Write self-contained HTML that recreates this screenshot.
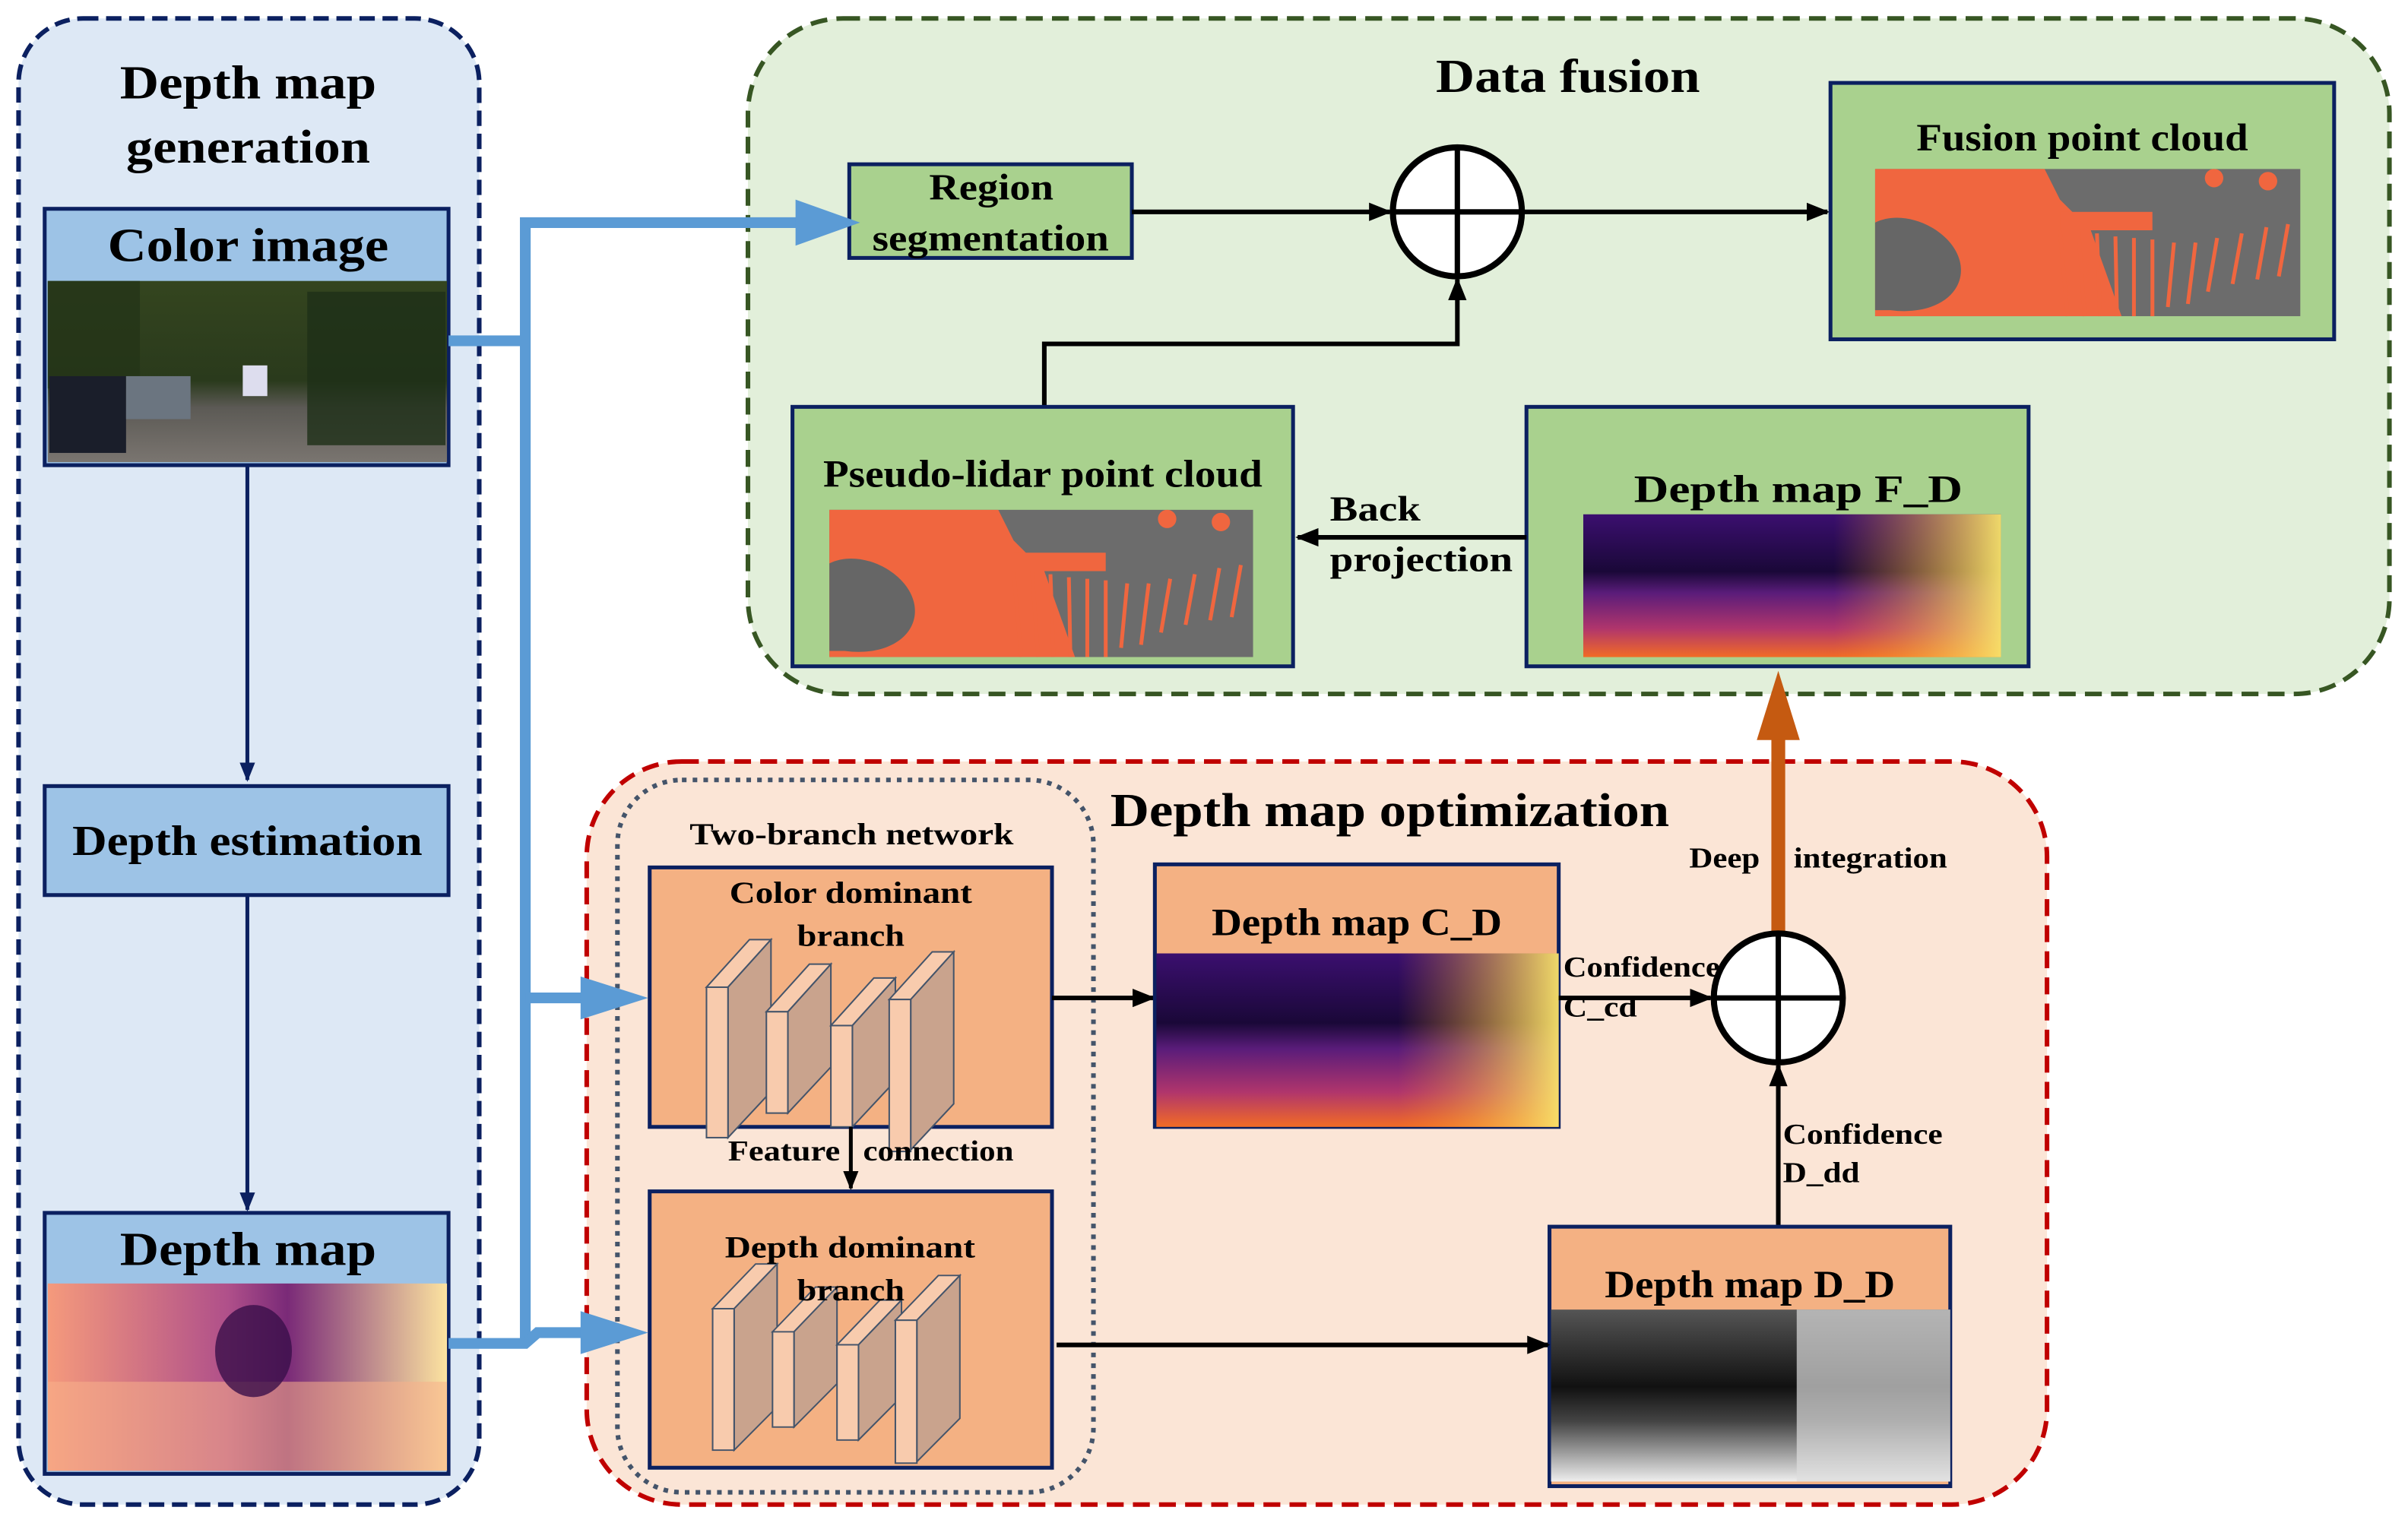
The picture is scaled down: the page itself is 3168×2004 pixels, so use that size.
<!DOCTYPE html>
<html><head><meta charset="utf-8"><style>html,body{margin:0;padding:0;background:#fff}svg{display:block}text{font-family:"Liberation Serif",serif;font-weight:bold;fill:#000}</style></head>
<body>
<svg width="3168" height="2004" viewBox="0 0 1568 992" xmlns="http://www.w3.org/2000/svg">
<defs>
<marker id="ah" viewBox="0 0 10 10" refX="9" refY="5" markerWidth="5" markerHeight="5" orient="auto-start-reverse"><path d="M0,1 L10,5 L0,9 z" fill="#000"/></marker>
<marker id="an" viewBox="0 0 10 10" refX="9" refY="5" markerWidth="5" markerHeight="5" orient="auto"><path d="M0,1 L10,5 L0,9 z" fill="#0b2060"/></marker>
<linearGradient id="inf" x1="0" y1="0" x2="0" y2="1"><stop offset="0" stop-color="#3b0f6f"/><stop offset="0.4" stop-color="#1a0838"/><stop offset="0.55" stop-color="#5a1c7a"/><stop offset="0.8" stop-color="#b0356c"/><stop offset="1" stop-color="#f26b25"/></linearGradient>
<linearGradient id="infR" x1="0" y1="0" x2="1" y2="0"><stop offset="0.6" stop-color="#f59020" stop-opacity="0"/><stop offset="1" stop-color="#f8e36a" stop-opacity="0.95"/></linearGradient>
<linearGradient id="pas" x1="0" y1="0" x2="1" y2="0"><stop offset="0" stop-color="#f59a7c"/><stop offset="0.45" stop-color="#b0508a"/><stop offset="0.6" stop-color="#7a2a78"/><stop offset="1" stop-color="#fce3a0"/></linearGradient>
<linearGradient id="gry" x1="0" y1="0" x2="0" y2="1"><stop offset="0" stop-color="#555"/><stop offset="0.45" stop-color="#111"/><stop offset="0.65" stop-color="#444"/><stop offset="1" stop-color="#eee"/></linearGradient>
<linearGradient id="photo" x1="0" y1="0" x2="0" y2="1"><stop offset="0" stop-color="#34451f"/><stop offset="0.55" stop-color="#2a3a1c"/><stop offset="0.7" stop-color="#5c5a55"/><stop offset="1" stop-color="#7a7570"/></linearGradient>
<symbol id="lidar" viewBox="0 0 276 96" preserveAspectRatio="none">
<rect width="276" height="96" fill="#6c6c6c"/>
<path d="M0,0 H110 L120,20 L140,40 L160,96 H0 z" fill="#f0663f"/>
<path d="M0,35 C20,25 50,40 55,60 C60,80 40,96 10,92 L0,92 z" fill="#666"/>
<g stroke="#f0663f" stroke-width="2.5">
<line x1="120" y1="40" x2="125" y2="96"/><line x1="132" y1="40" x2="136" y2="96"/><line x1="144" y1="42" x2="146" y2="96"/><line x1="156" y1="44" x2="157" y2="96"/><line x1="168" y1="45" x2="168" y2="96"/><line x1="180" y1="46" x2="180" y2="96"/><line x1="194" y1="48" x2="190" y2="90"/><line x1="208" y1="48" x2="203" y2="88"/><line x1="222" y1="45" x2="216" y2="80"/><line x1="238" y1="42" x2="232" y2="75"/><line x1="254" y1="38" x2="248" y2="72"/><line x1="268" y1="36" x2="262" y2="70"/>
</g>
<rect x="120" y="28" width="60" height="12" fill="#f0663f"/>
<circle cx="220" cy="6" r="6" fill="#f0663f"/><circle cx="255" cy="8" r="6" fill="#f0663f"/>
</symbol>
<g id="blocks" stroke="#44546a" stroke-width="1">
<path d="M460,643 l28,-31 h14 l-28,31 z" fill="#f8cbad"/><path d="M474,643 l28,-31 v99 l-28,30 z" fill="#c9a38d"/><rect x="460" y="643" width="14" height="98" fill="#f8cbad"/>
<path d="M499,659 l28,-31 h14 l-28,31 z" fill="#f8cbad"/><path d="M513,659 l28,-31 v67 l-28,30 z" fill="#c9a38d"/><rect x="499" y="659" width="14" height="66" fill="#f8cbad"/>
<path d="M541,668 l28,-31 h14 l-28,31 z" fill="#f8cbad"/><path d="M555,668 l28,-31 v67 l-28,30 z" fill="#c9a38d"/><rect x="541" y="668" width="14" height="66" fill="#f8cbad"/>
<path d="M579,651 l28,-31 h14 l-28,31 z" fill="#f8cbad"/><path d="M593,651 l28,-31 v99 l-28,30 z" fill="#c9a38d"/><rect x="579" y="651" width="14" height="99" fill="#f8cbad"/>
</g>
</defs>

<rect x="12" y="12" width="300" height="968" rx="42" fill="#dde8f5" stroke="#0b2060" stroke-width="3" stroke-dasharray="10,5"/>
<text x="78" y="64" font-size="31" textLength="167" lengthAdjust="spacingAndGlyphs">Depth map</text>
<text x="82" y="106" font-size="31" textLength="159" lengthAdjust="spacingAndGlyphs">generation</text>
<rect x="29" y="136" width="263" height="167" fill="#9dc3e6" stroke="#0b2060" stroke-width="2.5"/>
<text x="70" y="170" font-size="31" textLength="183" lengthAdjust="spacingAndGlyphs">Color image</text>
<rect x="31" y="183" width="260" height="118" fill="url(#photo)"/>
<rect x="31" y="183" width="60" height="70" fill="#243418" opacity="0.8"/>
<rect x="200" y="190" width="90" height="100" fill="#1e3018" opacity="0.8"/>
<rect x="32" y="245" width="50" height="50" fill="#1a1e2a"/><rect x="82" y="245" width="42" height="28" fill="#6b7580"/><rect x="158" y="238" width="16" height="20" fill="#dde"/>
<line x1="161" y1="303" x2="161" y2="508" stroke="#0b2060" stroke-width="2.5" marker-end="url(#an)"/>
<rect x="29" y="512" width="263" height="71" fill="#9dc3e6" stroke="#0b2060" stroke-width="2.5"/>
<text x="47" y="557" font-size="28" textLength="228" lengthAdjust="spacingAndGlyphs">Depth estimation</text>
<line x1="161" y1="583" x2="161" y2="788" stroke="#0b2060" stroke-width="2.5" marker-end="url(#an)"/>
<rect x="29" y="790" width="263" height="170" fill="#9dc3e6" stroke="#0b2060" stroke-width="2.5"/>
<text x="78" y="824" font-size="31" textLength="167" lengthAdjust="spacingAndGlyphs">Depth map</text>
<rect x="31" y="836" width="260" height="122" fill="url(#pas)"/>
<rect x="31" y="900" width="260" height="58" fill="#f7b08a" opacity="0.55"/>
<ellipse cx="165" cy="880" rx="25" ry="30" fill="#3a0f4a" opacity="0.8"/>

<rect x="487" y="12" width="1069" height="440" rx="62" fill="#e2efda" stroke="#375623" stroke-width="3" stroke-dasharray="11,6"/>
<text x="935" y="60" font-size="31" textLength="172" lengthAdjust="spacingAndGlyphs">Data fusion</text>
<rect x="553" y="107" width="184" height="61" fill="#a9d18e" stroke="#0b2060" stroke-width="2.5"/>
<text x="605" y="130" font-size="24" textLength="81" lengthAdjust="spacingAndGlyphs">Region</text>
<text x="568" y="163" font-size="24" textLength="154" lengthAdjust="spacingAndGlyphs">segmentation</text>
<line x1="737" y1="138" x2="905" y2="138" stroke="#000" stroke-width="3" marker-end="url(#ah)"/>
<circle cx="949" cy="138" r="42" fill="#fff" stroke="#000" stroke-width="4"/>
<line x1="907" y1="138" x2="991" y2="138" stroke="#000" stroke-width="3.5"/><line x1="949" y1="96" x2="949" y2="180" stroke="#000" stroke-width="3.5"/>
<line x1="991" y1="138" x2="1190" y2="138" stroke="#000" stroke-width="3" marker-end="url(#ah)"/>
<rect x="1192" y="54" width="328" height="167" fill="#a9d18e" stroke="#0b2060" stroke-width="2.5"/>
<text x="1248" y="98" font-size="25" textLength="216" lengthAdjust="spacingAndGlyphs">Fusion point cloud</text>
<use href="#lidar" x="1221" y="110" width="277" height="96"/>
<path d="M680,265 V224 H949 V182" fill="none" stroke="#000" stroke-width="3" marker-end="url(#ah)"/>
<rect x="516" y="265" width="326" height="169" fill="#a9d18e" stroke="#0b2060" stroke-width="2.5"/>
<text x="536" y="317" font-size="25" textLength="286" lengthAdjust="spacingAndGlyphs">Pseudo-lidar point cloud</text>
<use href="#lidar" x="540" y="332" width="276" height="96"/>
<rect x="994" y="265" width="327" height="169" fill="#a9d18e" stroke="#0b2060" stroke-width="2.5"/>
<text x="1064" y="327" font-size="25" textLength="214" lengthAdjust="spacingAndGlyphs">Depth map F_D</text>
<rect x="1031" y="335" width="272" height="93" fill="url(#inf)"/><rect x="1031" y="335" width="272" height="93" fill="url(#infR)"/>
<line x1="994" y1="350" x2="845" y2="350" stroke="#000" stroke-width="3" marker-end="url(#ah)"/>
<text x="866" y="339" font-size="23" textLength="59" lengthAdjust="spacingAndGlyphs">Back</text>
<text x="866" y="372" font-size="23" textLength="119" lengthAdjust="spacingAndGlyphs">projection</text>

<rect x="382" y="496" width="951" height="484" rx="62" fill="#fbe5d6" stroke="#c00000" stroke-width="3" stroke-dasharray="11,6"/>
<text x="723" y="538" font-size="31" textLength="364" lengthAdjust="spacingAndGlyphs">Depth map optimization</text>
<rect x="402" y="508" width="310" height="464" rx="42" fill="none" stroke="#44546a" stroke-width="3" stroke-dasharray="3,4"/>
<text x="449" y="550" font-size="20" textLength="211" lengthAdjust="spacingAndGlyphs">Two-branch network</text>
<rect x="423" y="565" width="262" height="169" fill="#f4b183" stroke="#0b2060" stroke-width="2.5"/>
<use href="#blocks"/>
<text x="475" y="588" font-size="20" textLength="158" lengthAdjust="spacingAndGlyphs">Color dominant</text>
<text x="519" y="616" font-size="20" textLength="70" lengthAdjust="spacingAndGlyphs">branch</text>
<line x1="554" y1="734" x2="554" y2="774" stroke="#000" stroke-width="2.5" marker-end="url(#ah)"/>
<text x="474" y="756" font-size="19" textLength="73" lengthAdjust="spacingAndGlyphs">Feature</text>
<text x="562" y="756" font-size="19" textLength="98" lengthAdjust="spacingAndGlyphs">connection</text>
<rect x="423" y="776" width="262" height="180" fill="#f4b183" stroke="#0b2060" stroke-width="2.5"/>
<use href="#blocks" transform="translate(4,248) scale(1,0.94)"/>
<text x="472" y="819" font-size="20" textLength="163" lengthAdjust="spacingAndGlyphs">Depth dominant</text>
<text x="519" y="847" font-size="20" textLength="70" lengthAdjust="spacingAndGlyphs">branch</text>
<line x1="685" y1="650" x2="751" y2="650" stroke="#000" stroke-width="3" marker-end="url(#ah)"/>
<rect x="752" y="563" width="263" height="171" fill="#f4b183" stroke="#0b2060" stroke-width="2.5"/>
<text x="789" y="609" font-size="25" textLength="189" lengthAdjust="spacingAndGlyphs">Depth map C_D</text>
<rect x="753" y="621" width="262" height="113" fill="url(#inf)"/><rect x="753" y="621" width="262" height="113" fill="url(#infR)"/>
<line x1="1015" y1="650" x2="1114" y2="650" stroke="#000" stroke-width="3" marker-end="url(#ah)"/>
<text x="1018" y="636" font-size="19" textLength="102" lengthAdjust="spacingAndGlyphs">Confidence</text>
<text x="1018" y="662" font-size="19" textLength="48" lengthAdjust="spacingAndGlyphs">C_cd</text>
<line x1="1158" y1="610" x2="1158" y2="480" stroke="#c55a11" stroke-width="9"/>
<path d="M1144,482 L1158,437 L1172,482 z" fill="#c55a11"/>
<text x="1100" y="565" font-size="19" textLength="46" lengthAdjust="spacingAndGlyphs">Deep</text>
<text x="1168" y="565" font-size="19" textLength="100" lengthAdjust="spacingAndGlyphs">integration</text>
<circle cx="1158" cy="650" r="42" fill="#fff" stroke="#000" stroke-width="4"/>
<line x1="1116" y1="650" x2="1200" y2="650" stroke="#000" stroke-width="3.5"/><line x1="1158" y1="608" x2="1158" y2="692" stroke="#000" stroke-width="3.5"/>
<line x1="1158" y1="799" x2="1158" y2="694" stroke="#000" stroke-width="3" marker-end="url(#ah)"/>
<text x="1161" y="745" font-size="19" textLength="104" lengthAdjust="spacingAndGlyphs">Confidence</text>
<text x="1161" y="770" font-size="19" textLength="50" lengthAdjust="spacingAndGlyphs">D_dd</text>
<rect x="1009" y="799" width="261" height="169" fill="#f4b183" stroke="#0b2060" stroke-width="2.5"/>
<text x="1045" y="845" font-size="25" textLength="189" lengthAdjust="spacingAndGlyphs">Depth map D_D</text>
<rect x="1010" y="853" width="260" height="112" fill="url(#gry)"/>
<rect x="1170" y="853" width="100" height="112" fill="#ddd" opacity="0.7"/>
<line x1="688" y1="876" x2="1008" y2="876" stroke="#000" stroke-width="3" marker-end="url(#ah)"/>

<g stroke="#5b9bd5" stroke-width="7" fill="none">
<polyline points="292,222 342,222"/>
<polyline points="342,875 342,145 522,145"/>
<polyline points="342,650 385,650"/>
<polyline points="292,875 342,875 350,868 385,868"/>
</g>
<path d="M518,130 L560,145 L518,160 z" fill="#5b9bd5"/>
<path d="M378,636 L422,650 L378,664 z" fill="#5b9bd5"/>
<path d="M378,854 L422,868 L378,882 z" fill="#5b9bd5"/>
</svg>
</body></html>
